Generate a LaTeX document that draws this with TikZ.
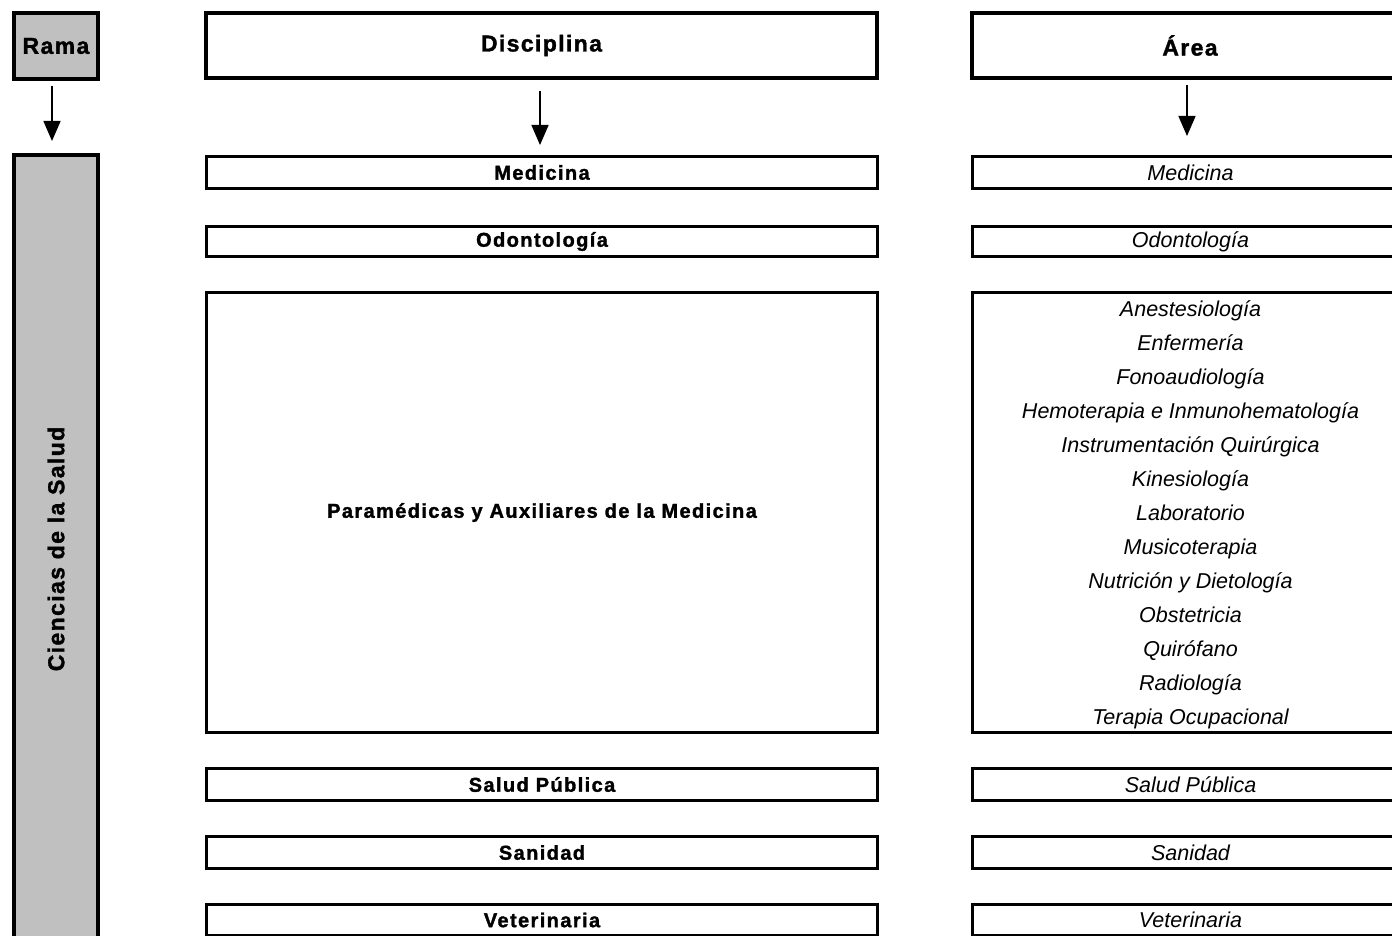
\documentclass[tikz,border=0pt]{standalone}
\usepackage{fontspec}
\setmainfont{Liberation Sans}
\newfontfamily\spc[LetterSpace=6,BoldFeatures={FakeBold=1.5}]{Liberation Sans}
\newfontfamily\spcb[LetterSpace=7,BoldFeatures={FakeBold=1.5}]{Liberation Sans}
\usetikzlibrary{arrows.meta}
\definecolor{grayfill}{HTML}{C0C0C0}
\tikzset{
  titlebox/.style={draw, line width=4.3pt, inner sep=0pt, font=\spc\bfseries\fontsize{23}{27}\selectfont},
  graybox/.style={titlebox, line width=4pt, fill=grayfill},
  discbox/.style={draw, line width=2.8pt, inner sep=0pt, minimum width=671pt, font=\spcb\bfseries\fontsize{20}{24}\selectfont},
  areabox/.style={draw, line width=2.8pt, inner sep=0pt, minimum width=436pt, align=center, font=\itshape\fontsize{21.5}{34}\selectfont},
  listtext/.style={inner sep=0pt, align=center, font=\itshape\fontsize{21.5}{34}\selectfont}
}
\tikzset{arr/.style={line width=1.5pt, -{Triangle[width=17pt,length=20pt]}}}
\begin{document}
\begin{tikzpicture}[x=1pt,y=-1pt]
\useasboundingbox (0,0) rectangle (1392,936);
\clip (0,0) rectangle (1392,936);
% headers
\node[graybox, minimum width=84pt, minimum height=66pt] (rama) at (56,46) {Rama};
\node[titlebox, minimum width=671pt, minimum height=65pt] (disc) at (541.5,45.5) {Disciplina};
\node[titlebox, minimum width=436pt, minimum height=65pt] (area) at (1190,45.5) {Área};
% rama column
\node[graybox, rotate=90, minimum width=788pt, minimum height=84pt] (cien) at (56,549) {Ciencias de la Salud};
% disciplina column
\node[discbox, minimum height=32.2pt] (dmed) at (542,172.5) {Medicina};
\node[discbox, minimum height=30.2pt] (dodo) at (542,241.5) {Odontología};
\node[discbox, minimum height=440.2pt] (dpar) at (542,512.5) {Paramédicas y Auxiliares de la Medicina};
\node[discbox, minimum height=32.2pt] (dsal) at (542,784.5) {Salud Pública};
\node[discbox, minimum height=32.2pt] (dsan) at (542,852.5) {Sanidad};
\node[discbox, minimum height=31.2pt] (dvet) at (542,920) {Veterinaria};
% area column
\node[areabox, minimum height=32.2pt] (amed) at (1190.5,172.5) {Medicina};
\node[areabox, minimum height=30.2pt] (aodo) at (1190.5,241.5) {Odontología};
\node[areabox, minimum height=440.2pt] (apar) at (1190.5,512.5) {};
\node[listtext] (alist) at ([yshift=-2.5pt]apar.center) {Anestesiología\\Enfermería\\Fonoaudiología\\Hemoterapia e Inmunohematología\\Instrumentación Quirúrgica\\Kinesiología\\Laboratorio\\Musicoterapia\\Nutrición y Dietología\\Obstetricia\\Quirófano\\Radiología\\Terapia Ocupacional};
\node[areabox, minimum height=32.2pt] (asal) at (1190.5,784.5) {Salud Pública};
\node[areabox, minimum height=32.2pt] (asan) at (1190.5,852.5) {Sanidad};
\node[areabox, minimum height=31.2pt] (avet) at (1190.5,920) {Veterinaria};
% arrows
\draw[arr, shorten <=5pt, shorten >=12pt] ([xshift=-4pt]rama.south) -- ([xshift=-4pt]cien.east);
\draw[arr, shorten <=11pt, shorten >=10pt] ([xshift=-1.5pt]disc.south) -- ([xshift=-2pt]dmed.north);
\draw[arr, shorten <=5pt, shorten >=19pt] ([xshift=-3pt]area.south) -- ([xshift=-3.5pt]amed.north);
\end{tikzpicture}
\end{document}
